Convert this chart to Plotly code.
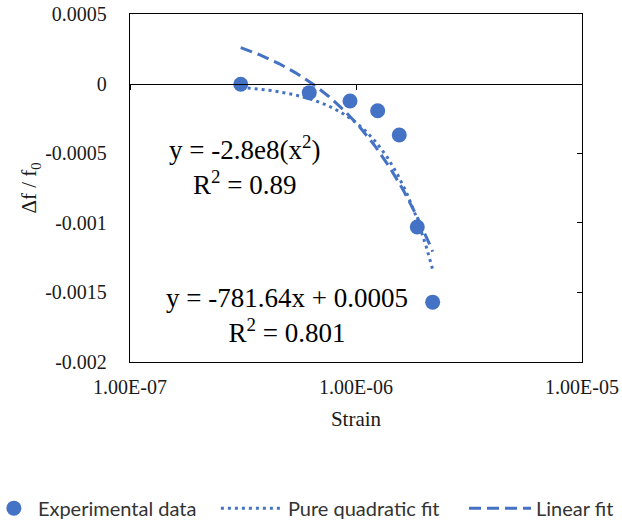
import numpy as np
import plotly.graph_objects as go

strain = [3.09e-7, 6.21e-7, 9.41e-7, 1.247e-6, 1.554e-6, 1.867e-6, 2.184e-6]
df_f0 = [-0.000005, -0.000065, -0.000125, -0.000195, -0.000369, -0.00103, -0.00157]

# Trendline coefficients shown on the chart
quad_a = -2.8e8          # y = a * x^2
lin_m = -781.64          # y = m * x + b
lin_b = 0.0005
quad_label = "y = -2.8e8(x<sup>2</sup>)<br>R<sup>2</sup> = 0.89"
lin_label = "y = -781.64x + 0.0005<br>R<sup>2</sup> = 0.801"

x_ticks = [1e-7, 1e-6, 1e-5]
x_tick_text = ["1.00E-07", "1.00E-06", "1.00E-05"]
y_ticks = [0.0005, 0, -0.0005, -0.001, -0.0015, -0.002]
y_tick_text = ["0.0005", "0", "-0.0005", "-0.001", "-0.0015", "-0.002"]

blue = "#4472C4"
serif = "Liberation Serif"
sans = "Lato"
txt = "#1a1a1a"

xfit = np.logspace(np.log10(min(strain)), np.log10(max(strain)), 200)
yquad = quad_a * xfit ** 2
ylin = lin_m * xfit + lin_b

fig = go.Figure()
fig.add_trace(go.Scatter(x=strain, y=df_f0, mode="markers", name="Experimental data",
                         marker=dict(color=blue, size=15), legend="legend"))
fig.add_trace(go.Scatter(x=xfit, y=yquad, mode="lines", name="Pure quadratic fit",
                         line=dict(color=blue, width=3, dash="3px,4px"), legend="legend2"))
fig.add_trace(go.Scatter(x=xfit, y=ylin, mode="lines", name="Linear fit",
                         line=dict(color=blue, width=3, dash="12px,6px"), legend="legend3"))

# zero-crossing horizontal axis (ticks only, no labels) and right-side inner ticks
fig.add_trace(go.Scatter(x=[None], y=[None], xaxis="x2", showlegend=False, hoverinfo="skip"))
fig.add_trace(go.Scatter(x=[None], y=[None], yaxis="y2", showlegend=False, hoverinfo="skip"))

yr = [-0.002, 0.0005]
xr = [-7, -5]

leg_font = dict(family=sans, size=20, color="#333333")
leg_common = dict(orientation="h", xanchor="left", y=-0.42, yanchor="middle",
                  font=leg_font, bgcolor="rgba(0,0,0,0)")

fig.update_layout(
    width=622, height=521,
    margin=dict(l=130, r=40, t=14, b=159, autoexpand=False),
    paper_bgcolor="white", plot_bgcolor="white",
    font=dict(family=serif, size=20, color=txt),
    xaxis=dict(type="log", range=xr, tickvals=x_ticks, ticktext=x_tick_text,
               showline=True, linecolor="#000000", linewidth=1.3, mirror=True,
               ticks="", showgrid=False, zeroline=False, ticklabelstandoff=7, automargin=False,
               tickfont=dict(family=serif, size=20, color=txt),
               title=dict(text="Strain", font=dict(family=serif, size=21, color=txt), standoff=14)),
    xaxis2=dict(type="log", range=xr, overlaying="x", anchor="free", position=0.8,
                tickvals=x_ticks, showticklabels=False, ticks="outside", ticklen=5,
                tickcolor="#000000", showline=True, linecolor="#000000", linewidth=1.3,
                showgrid=False, zeroline=False, automargin=False),
    yaxis=dict(range=yr, tickvals=y_ticks, ticktext=y_tick_text,
               showline=True, linecolor="#000000", linewidth=1.3, mirror=True,
               ticks="", showgrid=False, zeroline=False, ticklabelstandoff=18, automargin=False,
               tickfont=dict(family=serif, size=20, color=txt),
               title=dict(text="Δf / f<sub>0</sub>", font=dict(family=serif, size=21, color=txt), standoff=2)),
    yaxis2=dict(range=yr, overlaying="y", side="right", tickvals=y_ticks[2:5],
                showticklabels=False, ticks="inside", ticklen=5, tickcolor="#000000",
                showline=False, showgrid=False, zeroline=False, automargin=False),
    legend=dict(x=-0.31, itemwidth=38, **leg_common),
    legend2=dict(x=0.19, itemwidth=62, **leg_common),
    legend3=dict(x=0.739, itemwidth=62, **leg_common),
    showlegend=True,
)

fig.add_annotation(xref="paper", yref="paper", x=0.254, y=0.566, text=quad_label,
                   showarrow=False, align="center", xanchor="center", yanchor="middle",
                   font=dict(family=serif, size=27, color="#000000"))
fig.add_annotation(xref="paper", yref="paper", x=0.347, y=0.133, text=lin_label,
                   showarrow=False, align="center", xanchor="center", yanchor="middle",
                   font=dict(family=serif, size=27, color="#000000"))

fig.write_html("out.html", config={"displayModeBar": False},
               post_script="document.body.style.margin='0px';")
